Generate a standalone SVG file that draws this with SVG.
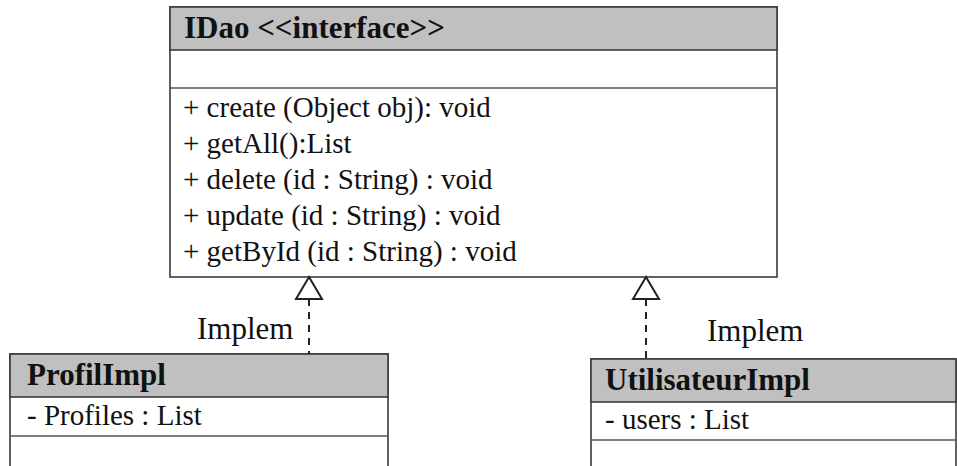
<svg xmlns="http://www.w3.org/2000/svg" width="957" height="466" viewBox="0 0 957 466">
<style>
.box{fill:#fff;stroke:#3a3a3a;stroke-width:1.6}
.hdr{fill:#c0c0c0;stroke:#3a3a3a;stroke-width:1.6}
.sep{stroke:#555;stroke-width:1.6}
.t{font-family:"Liberation Serif","Times New Roman",serif;font-size:29px;fill:#111}
.b{font-family:"Liberation Serif","Times New Roman",serif;font-size:31px;font-weight:bold;fill:#111}
.lbl{font-family:"Liberation Serif","Times New Roman",serif;font-size:31px;fill:#111}
.dash{stroke:#222;stroke-width:2;stroke-dasharray:7,6;fill:none}
.tri{fill:#fff;stroke:#222;stroke-width:2}
</style>
<rect width="957" height="466" fill="#fff"/>
<g id="IDao">
<rect class="box" x="170" y="7" width="607" height="270"/>
<rect class="hdr" x="170" y="7" width="607" height="43"/>
<line class="sep" x1="170" y1="88" x2="777" y2="88"/>
<text class="b" x="184" y="38">IDao &lt;&lt;interface&gt;&gt;</text>
<text class="t" x="183" y="117">+ create (Object obj): void</text>
<text class="t" x="183" y="153">+ getAll():List</text>
<text class="t" x="183" y="189">+ delete (id : String) : void</text>
<text class="t" x="183" y="225">+ update (id : String) : void</text>
<text class="t" x="183" y="261">+ getById (id : String) : void</text>
</g>
<g id="ProfilImpl">
<rect class="box" x="10" y="354" width="378" height="130"/>
<rect class="hdr" x="10" y="354" width="378" height="43"/>
<line class="sep" x1="10" y1="436" x2="388" y2="436"/>
<text class="b" x="27" y="385">ProfilImpl</text>
<text class="t" x="27" y="425">- Profiles : List</text>
</g>
<g id="UtilisateurImpl">
<rect class="box" x="591" y="359" width="365" height="130"/>
<rect class="hdr" x="591" y="359" width="365" height="43"/>
<line class="sep" x1="591" y1="440" x2="956" y2="440"/>
<text class="b" x="605" y="390">UtilisateurImpl</text>
<text class="t" x="605" y="429">- users : List</text>
</g>
<g id="connectors">
<line class="dash" x1="309" y1="299" x2="309" y2="354"/>
<polygon class="tri" points="309,277 296,299 322,299"/>
<text class="lbl" x="197" y="339">Implem</text>
<line class="dash" x1="646" y1="299" x2="646" y2="359"/>
<polygon class="tri" points="646,277 633,299 659,299"/>
<text class="lbl" x="707" y="341">Implem</text>
</g>
</svg>
